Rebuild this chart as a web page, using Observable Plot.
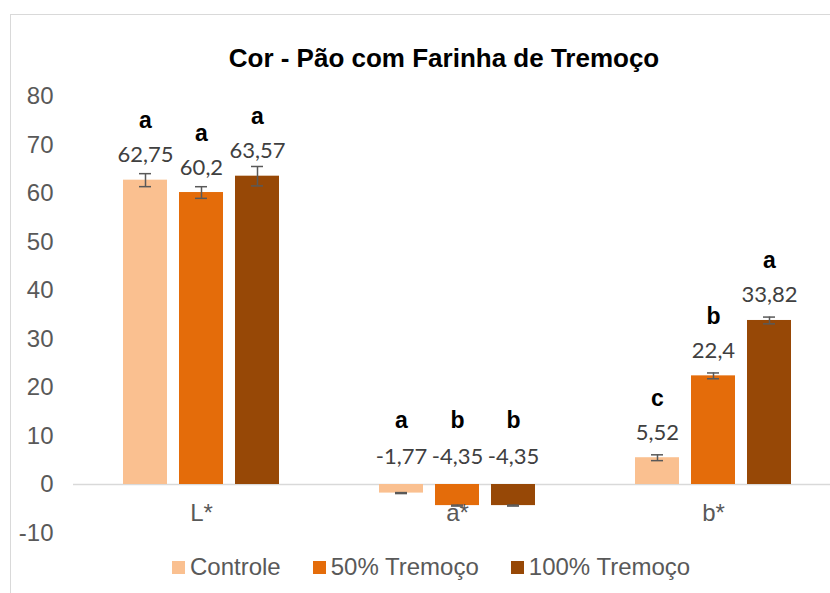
<!DOCTYPE html>
<html>
<head>
<meta charset="utf-8">
<script src="https://cdn.jsdelivr.net/npm/d3@7"></script>
<script src="https://cdn.jsdelivr.net/npm/@observablehq/plot@0.6"></script>
<style>
  html, body { margin: 0; padding: 0; background: #fff; }
  #wrap { position: relative; width: 830px; height: 593px; overflow: hidden; background: #fff; }
  #border { position: absolute; left: 10px; top: 14px; width: 900px; height: 700px; border-top: 1px solid #d9d9d9; border-left: 1px solid #d9d9d9; box-sizing: border-box; }
  #title { position: absolute; left: 0; width: 888px; top: 44.5px; text-align: center; font: bold 26px/26px "Liberation Sans", Arial, sans-serif; color: #000; white-space: nowrap; }
  #chart { position: absolute; left: 0; top: 0; width: 850px; }
  #chart svg { max-width: none !important; }
  #zeroext { position: absolute; left: 836px; }
  #legend { position: absolute; left: 172px; top: 555px; height: 24px; display: flex; align-items: center; font: 24px/24px "Liberation Sans", Arial, sans-serif; color: #595959; white-space: nowrap; }
  .item { display: flex; align-items: center; margin-right: 32px; }
  .sw { width: 13px; height: 13px; margin-right: 5px; }
</style>
</head>
<body>
<div id="wrap">
  <div id="border"></div>
  <div id="chart"></div>
  <div id="title">Cor - Pão com Farinha de Tremoço</div>
  <div id="legend"></div>
</div>
<script>
const categories = ["L*", "a*", "b*"];
const series = ["Controle", "50% Tremoço", "100% Tremoço"];
const colors = ["#FAC090", "#E46C0A", "#974806"];

const valuesControle = [62.75, -1.77, 5.52];
const values50 = [60.2, -4.35, 22.4];
const values100 = [63.57, -4.35, 33.82];

const errControle = [1.34, 0.1, 0.6];
const err50 = [1.2, 0.1, 0.6];
const err100 = [2.0, 0.1, 0.7];

const lettersControle = ["a", "a", "c"];
const letters50 = ["a", "b", "b"];
const letters100 = ["a", "b", "a"];

const yTicks = [-10, 0, 10, 20, 30, 40, 50, 60, 70, 80];

const seriesValues = [valuesControle, values50, values100];
const seriesErr = [errControle, err50, err100];
const seriesLetters = [lettersControle, letters50, letters100];

const data = [];
categories.forEach((cat, ci) => {
  series.forEach((s, si) => {
    data.push({
      cat,
      series: s,
      value: seriesValues[si][ci],
      err: seriesErr[si][ci],
      letter: seriesLetters[si][ci]
    });
  });
});

const fmt = v => String(v).replace(".", ",");
const pos = data.filter(d => d.value >= 0);
const neg = data.filter(d => d.value < 0);

// band of each category ≈ 256.67px, bars 45px, gap 12px
const step = 57, outer = (770 / 3 - 159) / 2;

const chart = Plot.plot({
  width: 842,
  height: 545,
  marginLeft: 72,
  marginRight: 0,
  marginTop: 96,
  marginBottom: 12.5,
  style: { fontFamily: "'Liberation Sans', Arial, sans-serif", background: "transparent", overflow: "visible", maxWidth: "none" },
  fx: { domain: categories, padding: 0, axis: null, label: null },
  x: { domain: series, paddingInner: 12 / step, paddingOuter: outer / step, axis: null, label: null },
  y: { domain: [-10, 80], label: null },
  color: { domain: series, range: colors },
  marks: [
    Plot.axisY({ ticks: yTicks, tickSize: 0, tickPadding: 20, fontSize: 24, color: "#595959", label: null, tickFormat: d => String(d) }),
    Plot.ruleY([0], { stroke: "#d9d9d9", strokeWidth: 1.5 }),
    Plot.barY(data, { fx: "cat", x: "series", y: "value", fill: "series" }),
    Plot.ruleX(data, { fx: "cat", x: "series", y1: d => d.value - d.err, y2: d => d.value + d.err, stroke: "#595959", strokeWidth: 1.5 }),
    Plot.tickY(data, { fx: "cat", x: "series", y: d => d.value + d.err, insetLeft: 16, insetRight: 16, stroke: "#595959", strokeWidth: 1.5 }),
    Plot.tickY(data, { fx: "cat", x: "series", y: d => d.value - d.err, insetLeft: 16, insetRight: 16, stroke: "#595959", strokeWidth: 1.5 }),
    Plot.text(pos, { fx: "cat", x: "series", y: "value", text: d => fmt(d.value), lineAnchor: "bottom", dy: -18, fontSize: 22, fontFamily: "Lato", fill: "#404040" }),
    Plot.text(neg, { fx: "cat", x: "series", y: 0, text: d => fmt(d.value), lineAnchor: "bottom", dy: -21, fontSize: 22, fontFamily: "Lato", fill: "#404040" }),
    Plot.text(pos, { fx: "cat", x: "series", y: "value", text: "letter", lineAnchor: "bottom", dy: -52, fontSize: 23, fontWeight: "bold", fill: "#000" }),
    Plot.text(neg, { fx: "cat", x: "series", y: 0, text: "letter", lineAnchor: "bottom", dy: -57, fontSize: 23, fontWeight: "bold", fill: "#000" }),
    Plot.text(categories, { fx: d => d, y: 0, text: d => d, lineAnchor: "bottom", dy: 36, fontSize: 24, fill: "#595959" })
  ]
});
document.getElementById("chart").appendChild(chart);

const legend = document.getElementById("legend");
series.forEach((s, i) => {
  const item = document.createElement("div");
  item.className = "item";
  const sw = document.createElement("div");
  sw.className = "sw";
  sw.style.background = colors[i];
  const label = document.createElement("span");
  label.textContent = s;
  item.appendChild(sw);
  item.appendChild(label);
  legend.appendChild(item);
});
</script>
</body>
</html>
